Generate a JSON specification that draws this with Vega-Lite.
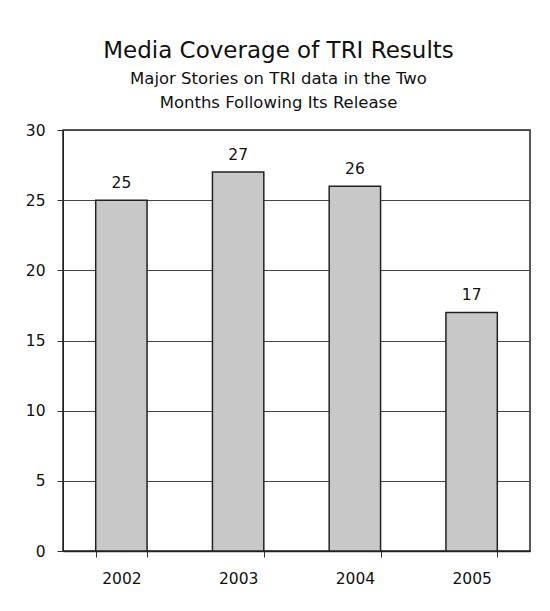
{
  "$schema": "https://vega.github.io/schema/vega-lite/v6.json",
  "width": 467,
  "height": 421,
  "autosize": "none",
  "padding": {"left": 63, "top": 130, "right": 20, "bottom": 60},
  "background": "white",
  "title": {
    "text": "Media Coverage of TRI Results",
    "subtitle": ["Major Stories on TRI data in the Two", "Months Following Its Release"],
    "anchor": "middle",
    "dx": -18,
    "offset": 12,
    "font": "DejaVu Sans",
    "fontSize": 23,
    "fontWeight": "normal",
    "color": "#111",
    "subtitleFont": "DejaVu Sans",
    "subtitleFontSize": 16.5,
    "subtitleColor": "#111",
    "subtitlePadding": 8,
    "subtitleLineHeight": 24
  },
  "data": {
    "values": [
      {"year": "2002", "stories": 25},
      {"year": "2003", "stories": 27},
      {"year": "2004", "stories": 26},
      {"year": "2005", "stories": 17}
    ]
  },
  "encoding": {
    "x": {
      "field": "year",
      "type": "nominal",
      "scale": {"paddingInner": 0.56, "paddingOuter": 0.28},
      "axis": {
        "title": null,
        "labelAngle": 0,
        "labelFont": "DejaVu Sans",
        "labelFontSize": 15.5,
        "labelColor": "#111",
        "labelPadding": 14,
        "tickBand": "extent",
        "tickColor": "#333",
        "tickSize": 6,
        "domainColor": "#222",
        "domainWidth": 1.5
      }
    },
    "y": {
      "field": "stories",
      "type": "quantitative",
      "scale": {"domain": [0, 30], "nice": false},
      "axis": {
        "title": null,
        "values": [0, 5, 10, 15, 20, 25, 30],
        "labelFont": "DejaVu Sans",
        "labelFontSize": 15.5,
        "labelColor": "#111",
        "labelPadding": 12,
        "tickColor": "#333",
        "tickSize": 6,
        "domainColor": "#222",
        "grid": true,
        "gridColor": "#444",
        "gridWidth": 1
      }
    }
  },
  "layer": [
    {
      "mark": {"type": "bar", "fill": "#c8c8c8", "stroke": "#222", "strokeWidth": 1.5}
    },
    {
      "mark": {"type": "text", "baseline": "bottom", "dy": -9, "font": "DejaVu Sans", "fontSize": 15.5, "color": "#111"},
      "encoding": {"text": {"field": "stories", "type": "quantitative"}}
    }
  ],
  "config": {
    "view": {"stroke": "#222", "strokeWidth": 1.5}
  }
}
